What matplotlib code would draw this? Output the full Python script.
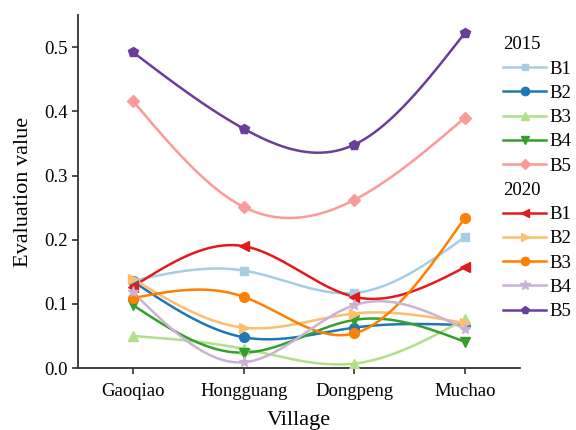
import numpy as np
import matplotlib.pyplot as plt
from matplotlib.lines import Line2D

plt.rcParams['font.family'] = ['Liberation Serif', 'DejaVu Serif']

villages = ['Gaoqiao', 'Hongguang', 'Dongpeng', 'Muchao']

# 2015
b1_2015 = [0.136, 0.152, 0.117, 0.204]
b2_2015 = [0.135, 0.048, 0.063, 0.067]
b3_2015 = [0.050, 0.030, 0.007, 0.076]
b4_2015 = [0.098, 0.024, 0.075, 0.041]
b5_2015 = [0.416, 0.251, 0.262, 0.390]
# 2020
b1_2020 = [0.127, 0.190, 0.111, 0.157]
b2_2020 = [0.139, 0.063, 0.085, 0.070]
b3_2020 = [0.109, 0.111, 0.054, 0.234]
b4_2020 = [0.118, 0.009, 0.098, 0.061]
b5_2020 = [0.492, 0.373, 0.348, 0.522]


def natural_spline(x, y, n=200):
    x = np.asarray(x, float)
    y = np.asarray(y, float)
    k = len(x)
    h = np.diff(x)
    A = np.zeros((k, k))
    r = np.zeros(k)
    A[0, 0] = A[-1, -1] = 1
    for i in range(1, k - 1):
        A[i, i - 1] = h[i - 1]
        A[i, i] = 2 * (h[i - 1] + h[i])
        A[i, i + 1] = h[i]
        r[i] = 6 * ((y[i + 1] - y[i]) / h[i] - (y[i] - y[i - 1]) / h[i - 1])
    m = np.linalg.solve(A, r)
    xs = np.linspace(x[0], x[-1], n)
    idx = np.clip(np.searchsorted(x, xs) - 1, 0, k - 2)
    x0, x1 = x[idx], x[idx + 1]
    hh = h[idx]
    ys = (m[idx] * (x1 - xs) ** 3 / (6 * hh) + m[idx + 1] * (xs - x0) ** 3 / (6 * hh)
          + (y[idx] / hh - m[idx] * hh / 6) * (x1 - xs)
          + (y[idx + 1] / hh - m[idx + 1] * hh / 6) * (xs - x0))
    return xs, ys


pal = plt.get_cmap('Paired').colors
series = [
    ('2015', 'B1', b1_2015, pal[0], 's', 6),
    ('2015', 'B2', b2_2015, pal[1], 'o', 7),
    ('2015', 'B3', b3_2015, pal[2], '^', 7),
    ('2015', 'B4', b4_2015, pal[3], 'v', 7),
    ('2015', 'B5', b5_2015, pal[4], 'D', 6),
    ('2020', 'B1', b1_2020, pal[5], '<', 7),
    ('2020', 'B2', b2_2020, pal[6], '>', 7),
    ('2020', 'B3', b3_2020, pal[7], 'o', 7),
    ('2020', 'B4', b4_2020, pal[8], '*', 8),
    ('2020', 'B5', b5_2020, pal[9], 'p', 7),
]

fig = plt.figure(figsize=(5.76, 4.3), dpi=100)
ax = fig.add_axes([0.135, 0.144, 0.768, 0.821])

x = np.arange(len(villages))
handles = {'2015': [], '2020': []}
for year, name, vals, color, marker, ms in series:
    xs, ys = natural_spline(x, vals)
    ax.plot(xs, ys, color=color, lw=1.8, zorder=2)
    ax.plot(x, vals, ls='none', marker=marker, ms=ms, color=color, zorder=3)
    handles[year].append(Line2D([], [], color=color, lw=1.8, marker=marker, ms=ms - 1, label=name))

leg_handles = [Line2D([], [], color='none')] + handles['2015'] + [Line2D([], [], color='none')] + handles['2020']
leg_labels = ['2015'] + [h.get_label() for h in handles['2015']] + ['2020'] + [h.get_label() for h in handles['2020']]
leg = ax.legend(leg_handles, leg_labels, loc='upper left', bbox_to_anchor=(0.962, 0.94),
                frameon=False, fontsize=13.5, handlelength=2.3, handletextpad=0.15,
                labelspacing=0.38, borderaxespad=0, borderpad=0)
leg.set_clip_on(False)
for t in leg.get_texts():
    if t.get_text() in ('2015', '2020'):
        t.set_position((-46, 0))

ax.set_xlim(-0.5, 3.5)
ax.set_ylim(0, 0.55)
ax.set_xticks(x, villages)
ax.set_yticks(np.arange(0, 0.51, 0.1))
ax.yaxis.set_major_formatter(plt.FormatStrFormatter('%.1f'))
ax.tick_params(labelsize=13.5, color='#333333', length=4, width=1.2)
ax.tick_params(axis='x', pad=7)
for s in ['top', 'right']:
    ax.spines[s].set_visible(False)
for s in ['left', 'bottom']:
    ax.spines[s].set_color('#333333')
    ax.spines[s].set_linewidth(1.3)

ax.set_xlabel('Village', fontsize=16, labelpad=8)
ax.set_ylabel('Evaluation value', fontsize=16, labelpad=8)

fig.savefig('out.png', dpi=100)
